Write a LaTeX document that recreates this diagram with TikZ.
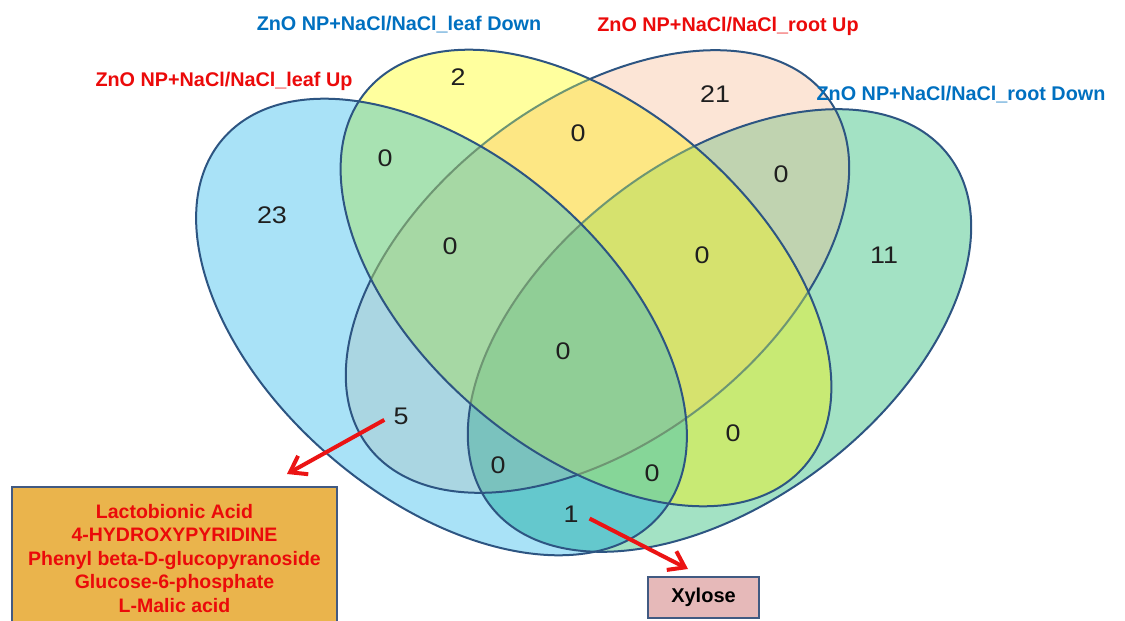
\documentclass[tikz,border=0pt]{standalone}
\usepackage{fontspec}
\setmainfont{Liberation Sans}
\newfontfamily\countfont[FakeStretch=1.12]{Liberation Sans}
\usetikzlibrary{arrows.meta}

% region colours of the four-set diagram
\definecolor{colA}{RGB}{169,226,247}
\definecolor{colB}{RGB}{255,255,158}
\definecolor{colC}{RGB}{252,229,214}
\definecolor{colD}{RGB}{163,226,196}
\definecolor{colAB}{RGB}{168,226,178}
\definecolor{colAC}{RGB}{170,214,226}
\definecolor{colAD}{RGB}{100,200,205}
\definecolor{colBC}{RGB}{253,231,132}
\definecolor{colBD}{RGB}{200,234,116}
\definecolor{colCD}{RGB}{192,211,176}
\definecolor{colABC}{RGB}{166,216,164}
\definecolor{colABD}{RGB}{134,214,152}
\definecolor{colACD}{RGB}{122,194,190}
\definecolor{colBCD}{RGB}{214,226,110}
\definecolor{colABCD}{RGB}{144,206,150}
\definecolor{lineC}{RGB}{45,85,130}
\definecolor{fadeC}{RGB}{110,150,115}
\definecolor{labred}{RGB}{235,10,10}
\definecolor{labblue}{RGB}{0,112,192}
\definecolor{boxorange}{RGB}{234,180,76}
\definecolor{boxpink}{RGB}{230,185,185}
\definecolor{boxline}{RGB}{65,90,130}
\definecolor{arrred}{RGB}{235,20,20}

% the four sets as rotated ellipses
\def\shA{[rotate around={-40.7:(cA)}] (cA) ellipse [x radius=288.4pt, y radius=170.7pt]}
\def\shB{[rotate around={-40.7:(cB)}] (cB) ellipse [x radius=288.4pt, y radius=170.7pt]}
\def\shC{[rotate around={37.3:(cC)}] (cC) ellipse [x radius=288.4pt, y radius=170.7pt]}
\def\shD{[rotate around={37.3:(cD)}] (cD) ellipse [x radius=288.4pt, y radius=170.7pt]}

% paint every region with its own colour: larger intersections last
\newcommand\paintregions{%
  \fill[colA] \shA; \fill[colB] \shB; \fill[colC] \shC; \fill[colD] \shD;
  \begin{scope}\clip \shA; \fill[colAB] \shB; \fill[colAC] \shC; \fill[colAD] \shD; \end{scope}
  \begin{scope}\clip \shB; \fill[colBC] \shC; \fill[colBD] \shD; \end{scope}
  \begin{scope}\clip \shC; \fill[colCD] \shD; \end{scope}
  \begin{scope}\clip \shA; \clip \shB; \fill[colABC] \shC; \fill[colABD] \shD; \end{scope}
  \begin{scope}\clip \shA; \clip \shC; \fill[colACD] \shD; \end{scope}
  \begin{scope}\clip \shB; \clip \shC; \fill[colBCD] \shD; \end{scope}
  \begin{scope}\clip \shA; \clip \shB; \clip \shC; \fill[colABCD] \shD; \end{scope}
}

\tikzset{
  outl/.style={draw=lineC, line width=2pt},
  faded/.style={draw=fadeC, line width=2pt},
  num/.style={font=\countfont\fontsize{24}{24}\selectfont, text=black!88, inner sep=2pt},
  lab/.style={font=\fontsize{19.8}{22}\selectfont\bfseries, inner sep=0pt},
  listbox/.style={draw=boxline, line width=2.5pt, fill=boxorange, text=labred,
    font=\fontsize{19.5}{23.5}\selectfont\bfseries, align=center},
  namebox/.style={draw=boxline, line width=2.5pt, fill=boxpink, text=black,
    font=\fontsize{20}{22}\selectfont\bfseries},
  redarrow/.style={draw=arrred, line width=4pt,
    -{Straight Barb[length=15pt, width=21pt]}},
}

\begin{document}
\begin{tikzpicture}[x=1pt, y=-1pt]
\useasboundingbox (0,0) rectangle (1125,621);

\coordinate (cA) at (441.5,327);
\coordinate (cB) at (586,278);
\coordinate (cC) at (597.5,271.5);
\coordinate (cD) at (719.5,330.5);

% coloured regions
\paintregions

% outlines of the two right-leaning sets
\draw[outl] \shC;
\draw[outl] \shD;

% inside the leaf-down set those outlines show through its fill
\begin{scope}
  \clip \shB;
  \paintregions
  \draw[faded] \shC;
  \draw[faded] \shD;
\end{scope}

% outlines of the two left-leaning sets
\draw[outl] \shA;
\draw[outl] \shB;

% set labels
\node[lab, text=labred]  (labA) at (224,81)  {ZnO NP+NaCl/NaCl\_leaf Up};
\node[lab, text=labblue] (labB) at (399,25)  {ZnO NP+NaCl/NaCl\_leaf Down};
\node[lab, text=labred]  (labC) at (728,26)  {ZnO NP+NaCl/NaCl\_root Up};
\node[lab, text=labblue] (labD) at (961,95)  {ZnO NP+NaCl/NaCl\_root Down};

% region counts
\node[num] (n23)   at (272,215) {23};
\node[num] (n2)    at (458,77)  {2};
\node[num] (n21)   at (715,94)  {21};
\node[num] (n11)   at (884,255) {11};
\node[num] (nAB)   at (385,158) {0};
\node[num] (nBC)   at (578,133) {0};
\node[num] (nCD)   at (781,174) {0};
\node[num] (nABC)  at (450,246) {0};
\node[num] (nBCD)  at (702,255) {0};
\node[num] (nABCD) at (563,351) {0};
\node[num] (n5)    at (401,416) {5};
\node[num] (nACD)  at (498,465) {0};
\node[num] (nABD)  at (652,473) {0};
\node[num] (nBD)   at (733,433) {0};
\node[num] (n1)    at (571,514) {1};

% metabolite boxes
\node[listbox, minimum width=325pt, minimum height=143pt] (list5) at (174.5,558.5)
  {Lactobionic Acid\\4-HYDROXYPYRIDINE\\Phenyl beta-D-glucopyranoside\\Glucose-6-phosphate\\L-Malic acid};
\node[namebox, minimum width=111pt, minimum height=41pt] (list1) at (703.5,597.5) {Xylose};

% arrows from the counts towards their boxes
\coordinate (tip5) at (287,474);
\coordinate (tip1) at (688,569);
\draw[redarrow, shorten <=8pt] (n5.west) -- (tip5);
\draw[redarrow, shorten <=10pt] (n1.east) -- (tip1);
\end{tikzpicture}
\end{document}
